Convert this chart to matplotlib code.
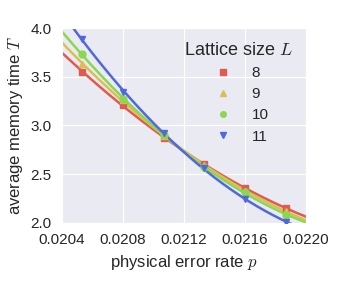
import numpy as np
import matplotlib
matplotlib.use("Agg")
import matplotlib.pyplot as plt
import seaborn as sns

# physical error rates where the runs were made
p = [0.020533, 0.0208, 0.021067, 0.021333, 0.0216, 0.021867]

# average memory time per lattice size
T_8 = [3.55, 3.21, 2.87, 2.60, 2.36, 2.15]
T_9 = [3.63, 3.26, 2.89, 2.59, 2.33, 2.12]
T_10 = [3.73, 3.27, 2.90, 2.57, 2.32, 2.08]
T_11 = [3.885, 3.34, 2.92, 2.56, 2.245, 2.01]

sizes = ['8', '9', '10', '11']
series = [T_8, T_9, T_10, T_11]
markers = ['s', '^', 'o', 'v']
colors = ['#e05a50', '#dbbf55', '#8ad852', '#5068dc']

sns.set_style("darkgrid")
plt.rcParams['font.family'] = ['Liberation Sans', 'DejaVu Sans']
plt.rcParams['mathtext.fontset'] = 'cm'

fig = plt.figure(figsize=(3.49, 2.81), dpi=100)
ax = fig.add_axes([0.178, 0.207, 0.699, 0.693])

xfit = np.linspace(0.0204, 0.0220, 200)
for lab, T, m, c in zip(sizes, series, markers, colors):
    coef = np.polyfit(p, T, 2)
    ax.plot(xfit, np.polyval(coef, xfit), color=c, lw=1.8, zorder=2)
    ax.plot(p, T, ls='none', marker=m, ms=5, color=c, label=lab, zorder=3)

ax.set_xlim(0.0204, 0.0220)
ax.set_ylim(2.0, 4.0)
ax.set_xticks([0.0204, 0.0208, 0.0212, 0.0216, 0.0220])
ax.set_xticklabels(['0.0204', '0.0208', '0.0212', '0.0216', '0.0220'])
ax.set_yticks([2.0, 2.5, 3.0, 3.5, 4.0])
ax.set_yticklabels(['2.0', '2.5', '3.0', '3.5', '4.0'])
ax.tick_params(labelsize=11, pad=4)
ax.set_xlabel('physical error rate $p$', fontsize=12)
ax.set_ylabel('average memory time $T$', fontsize=12)

leg = ax.legend(title='Lattice size $L$', loc='upper right', bbox_to_anchor=(1.0, 1.0),
                frameon=False, fontsize=11, title_fontsize=13, markerscale=0.8,
                handletextpad=0.9, labelspacing=0.47)

fig.savefig('out.png', dpi=100)
